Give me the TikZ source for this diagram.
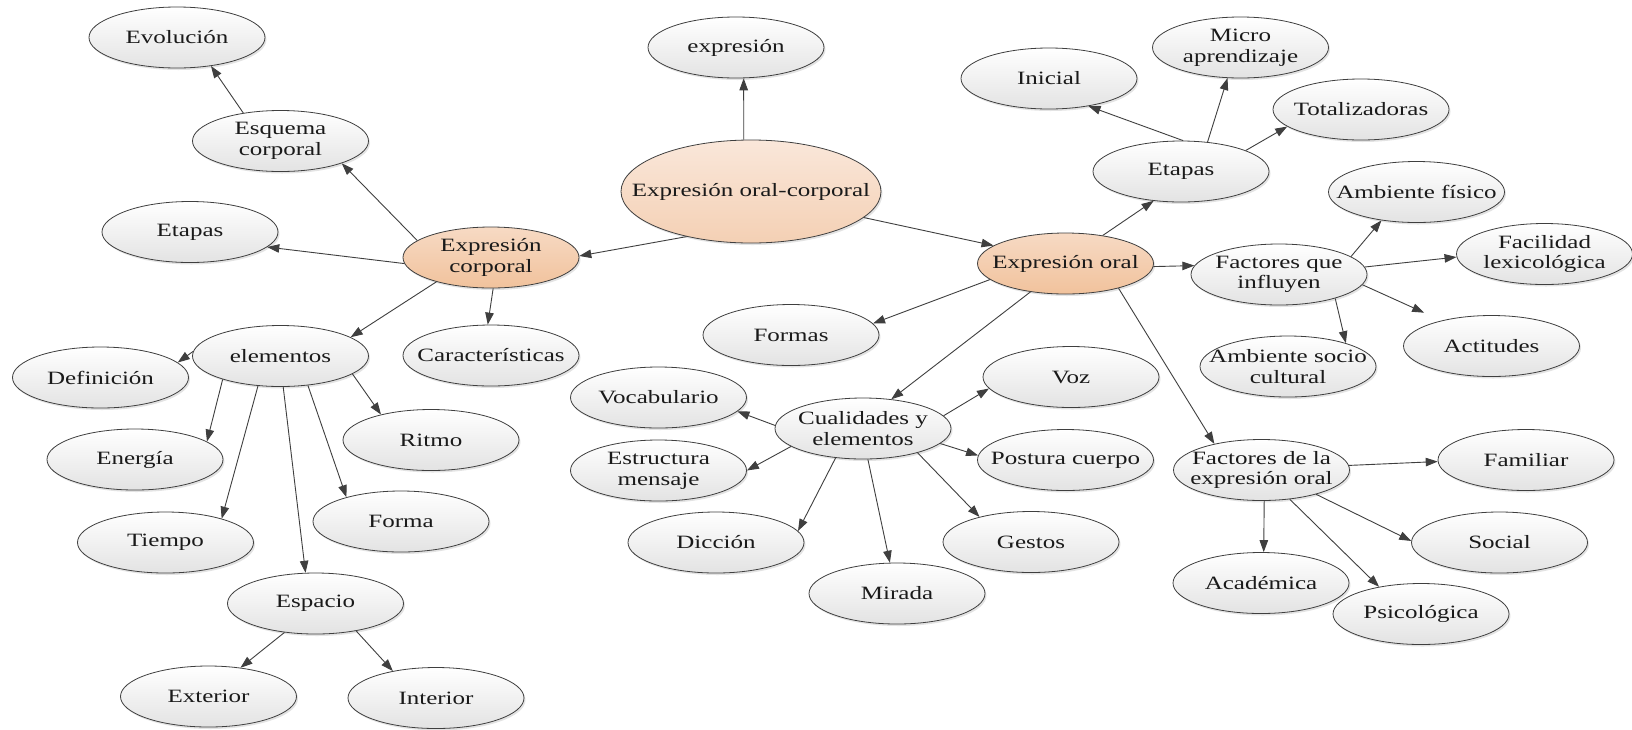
\documentclass[tikz,border=0pt]{standalone}
\usepackage{fontspec}
\setmainfont{Liberation Serif}[FakeStretch=1.33]
\usetikzlibrary{shapes.geometric,arrows.meta,shadows}
\definecolor{ecTop}{HTML}{F7DAC4}
\definecolor{ecBot}{HTML}{F1C29C}
\definecolor{ocTop}{HTML}{FAE7DA}
\definecolor{ocBot}{HTML}{F4D0B4}
\definecolor{txt}{HTML}{1A1A1A}
\definecolor{edge}{HTML}{3F3F3F}
\newcommand\zb[1]{\makebox[0pt]{#1}}
\tikzset{
  base/.style={ellipse, draw=edge, line width=0.8pt, minimum width=176pt,
    minimum height=61pt, inner sep=0pt, align=center, text=txt,
    font=\fontsize{18.8}{20.7}\selectfont,
    drop shadow={shadow xshift=1.5pt, shadow yshift=-2pt, opacity=0.22}},
  gnode/.style={base, top color=white, bottom color=black!11},
  onode/.style={base, top color=ecTop, bottom color=ecBot},
  cnode/.style={base, top color=ocTop, bottom color=ocBot,
    minimum width=260pt, minimum height=103pt},
  arr/.style={draw=edge, line width=0.9pt, -{Triangle[length=12pt,width=8.5pt]}}
}
\begin{document}
\begin{tikzpicture}[x=1pt,y=-1pt]
\fill[white] (0,0) rectangle (1632,729);
\useasboundingbox (0,0) rectangle (1632,729);
% nodes
\node[gnode] (evol) at (177,37.5) {\zb{Evolución}};
\node[gnode] (expr) at (736,47.5) {\zb{expresión}};
\node[gnode] (esq) at (280.5,141) {\zb{Esquema}\\\zb{corporal}};
\node[gnode] (etL) at (190,232) {\zb{Etapas}};
\node[onode] (ec) at (491,257.5) {\zb{Expresión}\\\zb{corporal}};
\node[cnode] (oc) at (751,191.5) {\zb{Expresión oral-corporal}};
\node[gnode] (elem) at (280.5,356) {\zb{elementos}};
\node[gnode] (car) at (491,355.5) {\zb{Características}};
\node[gnode] (def) at (100.5,377.5) {\zb{Definición}};
\node[gnode] (ene) at (135,459.5) {\zb{Energía}};
\node[gnode] (rit) at (431,440) {\zb{Ritmo}};
\node[gnode] (tie) at (165.5,542.5) {\zb{Tiempo}};
\node[gnode] (forma) at (401,521.5) {\zb{Forma}};
\node[gnode] (esp) at (315.5,603.5) {\zb{Espacio}};
\node[gnode] (ext) at (208.5,696.5) {\zb{Exterior}};
\node[gnode] (int) at (436,698) {\zb{Interior}};
\node[gnode] (ini) at (1049,78.5) {\zb{Inicial}};
\node[gnode] (mic) at (1240.5,47.5) {\zb{Micro}\\\zb{aprendizaje}};
\node[gnode] (tot) at (1361,109.5) {\zb{Totalizadoras}};
\node[gnode] (etR) at (1181,171.5) {\zb{Etapas}};
\node[gnode] (amf) at (1416.5,192) {\zb{Ambiente físico}};
\node[gnode] (fac) at (1544.5,254) {\zb{Facilidad}\\\zb{lexicológica}};
\node[onode] (eo) at (1065.5,263.5) {\zb{Expresión oral}};
\node[gnode] (fqi) at (1279,274.5) {\zb{Factores que}\\\zb{influyen}};
\node[gnode] (frm) at (791,335) {\zb{Formas}};
\node[gnode] (act) at (1491.5,346) {\zb{Actitudes}};
\node[gnode] (ams) at (1288,366.5) {\zb{Ambiente socio}\\\zb{cultural}};
\node[gnode] (voc) at (658.5,397.5) {\zb{Vocabulario}};
\node[gnode] (voz) at (1071,377) {\zb{Voz}};
\node[gnode] (cual) at (863,428.5) {\zb{Cualidades y}\\\zb{elementos}};
\node[gnode] (est) at (658.5,470.5) {\zb{Estructura}\\\zb{mensaje}};
\node[gnode] (pos) at (1065.5,460) {\zb{Postura cuerpo}};
\node[gnode] (fd) at (1261.5,470) {\zb{Factores de la}\\\zb{expresión oral}};
\node[gnode] (fam) at (1526,460) {\zb{Familiar}};
\node[gnode] (dic) at (716,542.5) {\zb{Dicción}};
\node[gnode] (ges) at (1031,542) {\zb{Gestos}};
\node[gnode] (soc) at (1499.5,542.5) {\zb{Social}};
\node[gnode] (mir) at (897,593.5) {\zb{Mirada}};
\node[gnode] (aca) at (1261,583) {\zb{Académica}};
\node[gnode] (psi) at (1421,614) {\zb{Psicológica}};
% connectors
\draw[arr] (oc.98) -- (expr.284);
\draw[arr] (oc.215) -- (ec.1);
\draw[arr] (oc.347) -- (eo.166);
\draw[arr] (ec.167) -- (esq.340);
\draw[arr] (esq.143) -- (evol.320);
\draw[arr] (ec.184) -- (etL.349);
\draw[arr] (ec.204) -- (elem.15);
\draw[arr] (ec.274) -- (car.96);
\draw[arr] (elem.177) -- (def.11);
\draw[arr] (elem.202) -- (ene.14);
\draw[arr] (elem.233) -- (tie.23);
\draw[arr] (elem.275) -- (esp.108);
\draw[arr] (elem.313) -- (forma.156);
\draw[arr] (elem.346) -- (rit.153);
\draw[arr] (esp.223) -- (ext.42);
\draw[arr] (esp.326) -- (int.148);
\draw[arr] (eo.37) -- (etR.227);
\draw[arr] (etR.86) -- (ini.325);
\draw[arr] (etR.48) -- (mic.247);
\draw[arr] (etR.18) -- (tot.193);
\draw[arr] (eo.358) -- (fqi.174);
\draw[arr] (fqi.14) -- (amf.219);
\draw[arr] (fqi.5) -- (fac.182);
\draw[arr, shorten >=19pt] (fqi.353) -- (act.153);
\draw[arr] (fqi.337) -- (ams.22);
\draw[arr] (eo.192) -- (frm.8);
\draw[arr] (eo.219) -- (cual.46);
\draw[arr] (eo.335) -- (fd.151);
\draw[arr] (cual.178) -- (voc.350);
\draw[arr] (cual.194) -- (est.0);
\draw[arr] (cual.227) -- (dic.8);
\draw[arr] (cual.9) -- (voz.188);
\draw[arr] (cual.349) -- (pos.177);
\draw[arr] (cual.336) -- (ges.154);
\draw[arr] (cual.279) -- (mir.103);
\draw[arr] (fd.3) -- (fam.181);
\draw[arr] (fd.336) -- (soc.179);
\draw[arr] (fd.275) -- (aca.85);
\draw[arr] (fd.314) -- (psi.147);
\end{tikzpicture}
\end{document}
